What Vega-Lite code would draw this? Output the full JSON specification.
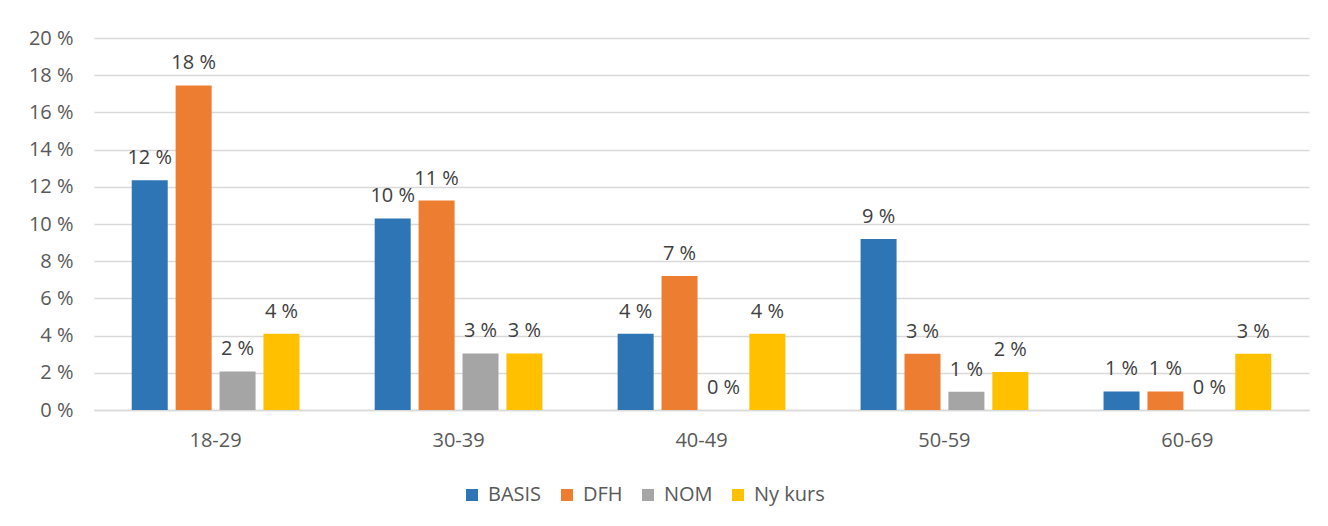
{
  "$schema": "https://vega.github.io/schema/vega-lite/v6.json",
  "width": 1215,
  "height": 372,
  "autosize": "none",
  "padding": {"left": 94, "top": 38, "right": 19, "bottom": 116},
  "background": "white",
  "config": {"view": {"stroke": null}, "font": "Open Sans"},
  "data": {
    "values": [
      {"age": "18-29", "series": "BASIS", "value": 12.35, "label": "12 %"},
      {"age": "18-29", "series": "DFH", "value": 17.45, "label": "18 %"},
      {"age": "18-29", "series": "NOM", "value": 2.07, "label": "2 %"},
      {"age": "18-29", "series": "Ny kurs", "value": 4.1, "label": "4 %"},
      {"age": "30-39", "series": "BASIS", "value": 10.3, "label": "10 %"},
      {"age": "30-39", "series": "DFH", "value": 11.26, "label": "11 %"},
      {"age": "30-39", "series": "NOM", "value": 3.04, "label": "3 %"},
      {"age": "30-39", "series": "Ny kurs", "value": 3.04, "label": "3 %"},
      {"age": "40-49", "series": "BASIS", "value": 4.1, "label": "4 %"},
      {"age": "40-49", "series": "DFH", "value": 7.2, "label": "7 %"},
      {"age": "40-49", "series": "NOM", "value": 0, "label": "0 %"},
      {"age": "40-49", "series": "Ny kurs", "value": 4.1, "label": "4 %"},
      {"age": "50-59", "series": "BASIS", "value": 9.2, "label": "9 %"},
      {"age": "50-59", "series": "DFH", "value": 3.02, "label": "3 %"},
      {"age": "50-59", "series": "NOM", "value": 0.98, "label": "1 %"},
      {"age": "50-59", "series": "Ny kurs", "value": 2.04, "label": "2 %"},
      {"age": "60-69", "series": "BASIS", "value": 1.0, "label": "1 %"},
      {"age": "60-69", "series": "DFH", "value": 1.0, "label": "1 %"},
      {"age": "60-69", "series": "NOM", "value": 0, "label": "0 %"},
      {"age": "60-69", "series": "Ny kurs", "value": 3.02, "label": "3 %"}
    ]
  },
  "encoding": {
    "x": {
      "field": "age",
      "type": "nominal",
      "sort": null,
      "scale": {"paddingInner": 0.277, "paddingOuter": 0.139},
      "axis": {
        "title": null,
        "labelAngle": 0,
        "ticks": false,
        "domainColor": "#D9D9D9",
        "domainWidth": 1.5,
        "labelColor": "#595959",
        "labelFontSize": 20,
        "labelPadding": 20
      }
    },
    "xOffset": {
      "field": "series",
      "type": "nominal",
      "sort": ["BASIS", "DFH", "NOM", "Ny kurs"],
      "scale": {"paddingInner": 0.18, "paddingOuter": 0.09}
    },
    "y": {
      "field": "value",
      "type": "quantitative",
      "scale": {"domain": [0, 20], "nice": false},
      "axis": {
        "title": null,
        "values": [0, 2, 4, 6, 8, 10, 12, 14, 16, 18, 20],
        "labelExpr": "datum.value + ' %'",
        "domain": false,
        "ticks": false,
        "grid": true,
        "gridColor": "#D9D9D9",
        "gridWidth": 1.5,
        "labelColor": "#595959",
        "labelFontSize": 20,
        "labelPadding": 21
      }
    }
  },
  "layer": [
    {
      "mark": {"type": "bar"},
      "encoding": {
        "color": {
          "field": "series",
          "type": "nominal",
          "scale": {
            "domain": ["BASIS", "DFH", "NOM", "Ny kurs"],
            "range": ["#2E75B6", "#ED7D31", "#A5A5A5", "#FFC000"]
          },
          "legend": {
            "title": null,
            "orient": "none",
            "legendX": 368,
            "legendY": 447,
            "direction": "horizontal",
            "symbolType": "square",
            "symbolSize": 144,
            "symbolStrokeWidth": 0,
            "labelFontSize": 20,
            "labelColor": "#595959",
            "labelOffset": 6,
            "columnPadding": 15
          }
        }
      }
    },
    {
      "mark": {"type": "text", "baseline": "bottom", "dy": -12, "fontSize": 20, "color": "#404040"},
      "encoding": {"text": {"field": "label", "type": "nominal"}}
    }
  ]
}
